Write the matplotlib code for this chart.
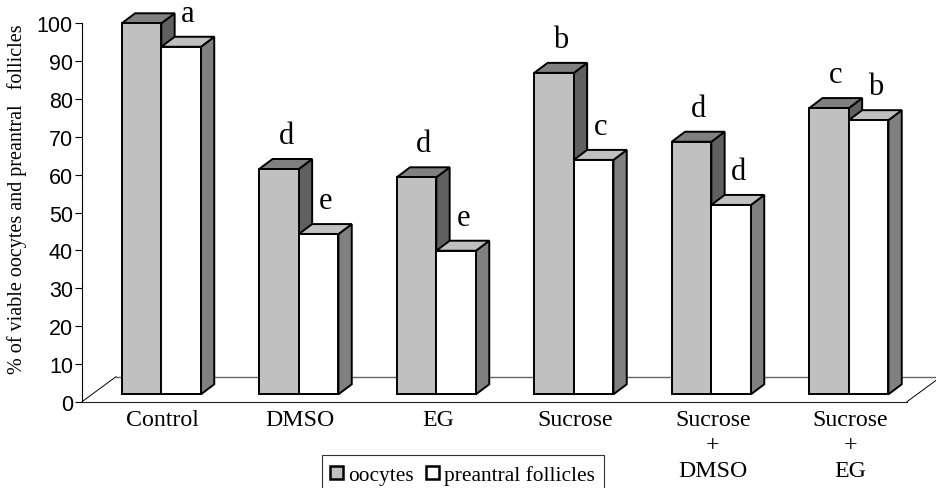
import numpy as np
import matplotlib
matplotlib.use('Agg')
import matplotlib.pyplot as plt
from matplotlib.patches import Polygon, Rectangle

categories = ['Control', 'DMSO', 'EG', 'Sucrose', 'Sucrose\n+\nDMSO', 'Sucrose\n+\nEG']
oocytes = [100, 61.5, 59.3, 86.9, 68.7, 77.6]
preantral = [93.8, 44.3, 39.9, 63.9, 52.0, 74.4]
oocyte_letters = ['', 'd', 'd', 'b', 'd', 'c']
preantral_letters = ['a', 'e', 'e', 'c', 'd', 'b']
yticks = list(range(0, 101, 10))

W, H = 936, 489
SERIF = 'Liberation Serif'
SANS = 'Liberation Sans'

fig = plt.figure(figsize=(W / 100, H / 100), dpi=100)
ax = fig.add_axes([82 / W, (H - 402.7) / H, 825 / W, 378.4 / H])
ax.set_xlim(0, 6)
ax.set_ylim(0, 100)

# sizes of the oblique projection, in data units
px_x = 6 / 825
px_y = 100 / 378.4
bar_w = 39.6 * px_x
base = 7.4 * px_y
shift = 10.6 * px_x
dx, dy = 13.3 * px_x, 10 * px_y
floor_dx, floor_dy = 34 * px_x, 25 * px_y


def poly(pts, face, lw=1.4, z=3):
    ax.add_patch(Polygon(pts, closed=True, facecolor=face, edgecolor='black', lw=lw,
                         joinstyle='miter', zorder=z, clip_on=False))


def bar3d(x, top, face, top_face, side_face, z):
    x2 = x + bar_w
    poly([(x2, base), (x2 + dx, base + dy), (x2 + dx, top + dy), (x2, top)], side_face, z=z)
    poly([(x, top), (x + dx, top + dy), (x2 + dx, top + dy), (x2, top)], top_face, z=z)
    poly([(x, base), (x2, base), (x2, top), (x, top)], face, z=z)


# floor
ax.plot([0, floor_dx], [0, floor_dy], color='black', lw=0.7, zorder=1, clip_on=False)
ax.plot([floor_dx, 6 + floor_dx], [floor_dy, floor_dy], color='#666666', lw=1.0, zorder=1, clip_on=False)
ax.plot([6, 6 + floor_dx], [0, floor_dy], color='black', lw=0.7, zorder=1, clip_on=False)

for i in range(len(categories)):
    c = i + 0.5 + shift
    # grey bar first, the white bar's top face covers its side
    bar3d(c - bar_w, oocytes[i], '#C0C0C0', '#808080', '#606060', 3)
    bar3d(c, preantral[i], 'white', '#C0C0C0', '#808080', 4)

    for x, top, letter in [(c - bar_w / 2, oocytes[i], oocyte_letters[i]),
                           (c + bar_w / 2, preantral[i], preantral_letters[i])]:
        if letter:
            ax.annotate(letter, (x, top), xytext=(7 * 0.72, 26 * 0.72), textcoords='offset points',
                        ha='center', va='baseline', family=SERIF, fontsize=22, zorder=6)

for s in ['top', 'right']:
    ax.spines[s].set_visible(False)
ax.spines['left'].set_linewidth(0.8)
ax.spines['bottom'].set_linewidth(0.8)
ax.spines['bottom'].set_color('#222222')

ax.set_yticks(yticks)
ax.set_yticklabels([str(t) for t in yticks], family=SANS, fontsize=15.5)
ax.tick_params(axis='y', length=5, width=0.8, pad=1.5)
ax.set_xticks([])

for i, name in enumerate(categories):
    ax.text(i + 0.5 + shift + 1.5 * px_x, -1.9, name, ha='center', va='top', family=SERIF, fontsize=17.2,
            linespacing=1.29)

fig.text(17 / W, 1 - 199 / H, '% of viable oocytes and preantral   follicles', rotation=90,
         ha='center', va='center', family=SERIF, fontsize=14.5)

# legend box runs off the bottom edge
fig.add_artist(Rectangle((322 / W, -10 / H), 282 / W, (H - 456 + 10) / H, transform=fig.transFigure,
                         facecolor='white', edgecolor='#333333', lw=0.8))
for x0, color, label, tx in [(330, '#C0C0C0', 'oocytes', 348), (425.5, 'white', 'preantral follicles', 444)]:
    fig.add_artist(Rectangle((x0 / W, 1 - 480 / H), 13 / W, 13 / H, transform=fig.transFigure,
                             facecolor=color, edgecolor='black', lw=1.8))
    fig.text(tx / W, 1 - 481 / H, label, family=SERIF, fontsize=15.4, ha='left', va='baseline')

fig.savefig('out.png', dpi=100)
